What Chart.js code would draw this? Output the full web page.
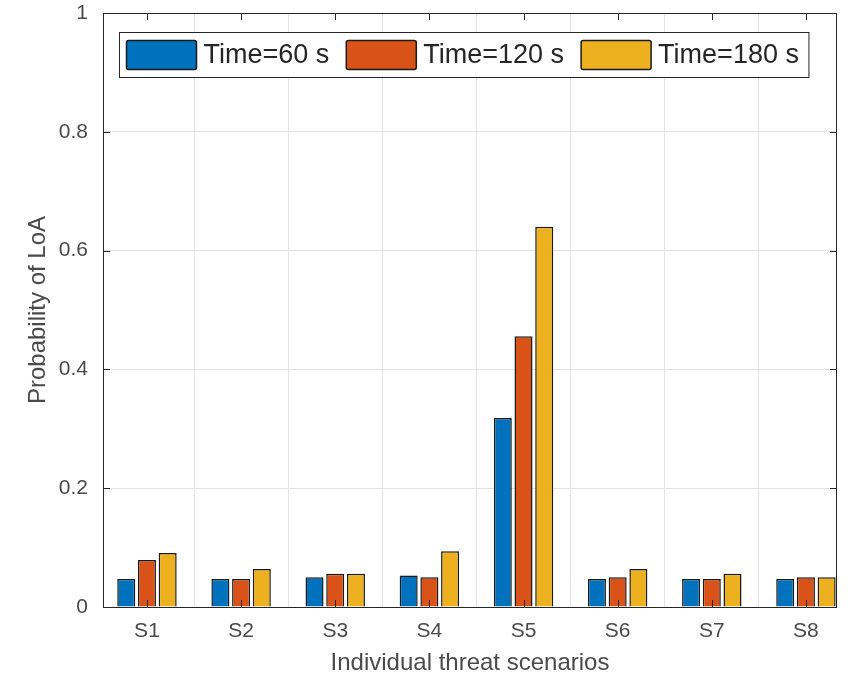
<!DOCTYPE html>
<html>
<head>
<meta charset="utf-8">
<script src="https://cdn.jsdelivr.net/npm/chart.js@4/dist/chart.umd.min.js"></script>
<style>
  html, body { margin: 0; padding: 0; background: #ffffff; }
  #wrap { width: 851px; height: 678px; }
</style>
</head>
<body>
<div id="wrap"><canvas id="c" width="851" height="678"></canvas></div>
<script>
// ---- data ----
const categories = ['S1', 'S2', 'S3', 'S4', 'S5', 'S6', 'S7', 'S8'];
const seriesLabels = ['Time=60 s', 'Time=120 s', 'Time=180 s'];
const time60  = [0.047, 0.047, 0.050, 0.053, 0.318, 0.047, 0.047, 0.047];
const time120 = [0.079, 0.047, 0.056, 0.050, 0.456, 0.050, 0.047, 0.050];
const time180 = [0.091, 0.064, 0.056, 0.094, 0.640, 0.064, 0.056, 0.050];
const yTicks = [0, 0.2, 0.4, 0.6, 0.8, 1];
const xTitle = 'Individual threat scenarios';
const yTitle = 'Probability of LoA';

const colors = ['#0072BD', '#D95319', '#EDB120'];
const FONT = '"Liberation Sans", Arial, sans-serif';
const AXIS_COLOR = '#262626';
const TEXT_COLOR = '#4a4a4a';

function toPoints(arr) { return arr.map((v, i) => ({ x: i + 1, y: v })); }

const allSeries = [time60, time120, time180];
const datasets = allSeries.map((s, i) => ({
  label: seriesLabels[i],
  data: toPoints(s),
  backgroundColor: colors[i],
  borderColor: '#1a1a1a',
  borderWidth: 1.5,
  categoryPercentage: 0.66,
  barPercentage: 0.87
}));

// axes box + inward ticks (MATLAB style)
const boxPlugin = {
  id: 'boxPlugin',
  afterDatasetsDraw(chart) {
    const { ctx, chartArea: a, scales } = chart;
    ctx.save();
    ctx.strokeStyle = AXIS_COLOR;
    ctx.lineWidth = 1;
    ctx.strokeRect(a.left + 0.5, a.top + 0.5, a.right - a.left - 1, a.bottom - a.top);
    const tl = 7;
    ctx.beginPath();
    categories.forEach((c, i) => {
      const x = Math.round(scales.x.getPixelForValue(i + 1)) + 0.5;
      ctx.moveTo(x, a.bottom); ctx.lineTo(x, a.bottom - tl);
      ctx.moveTo(x, a.top); ctx.lineTo(x, a.top + tl);
    });
    yTicks.forEach(v => {
      const y = Math.round(scales.y.getPixelForValue(v)) + 0.5;
      ctx.moveTo(a.left, y); ctx.lineTo(a.left + tl, y);
      ctx.moveTo(a.right, y); ctx.lineTo(a.right - tl, y);
    });
    ctx.stroke();
    ctx.restore();
  }
};

// legend drawn inside the axes (MATLAB 'north' legend)
const insideLegend = {
  id: 'insideLegend',
  afterDraw(chart) {
    const { ctx, chartArea: a } = chart;
    const fontSize = 27;
    ctx.save();
    ctx.font = fontSize + 'px ' + FONT;
    const swW = 70, swH = 29, gapText = 7, gapItem = 17, padL = 7, padR = 10;
    const items = chart.data.datasets.map(d => ({ label: d.label, color: d.backgroundColor, w: ctx.measureText(d.label).width }));
    let total = padL + padR;
    items.forEach((it, i) => { total += swW + gapText + it.w + (i < items.length - 1 ? gapItem : 0); });
    const boxH = 45;
    const left = 119.5;
    const top = a.top + 19.5;
    ctx.fillStyle = '#ffffff';
    ctx.fillRect(left, top, total, boxH);
    ctx.strokeStyle = AXIS_COLOR;
    ctx.lineWidth = 1;
    ctx.strokeRect(left, top, total, boxH);
    let x = left + padL;
    const cy = top + boxH / 2;
    items.forEach(it => {
      ctx.fillStyle = it.color;
      ctx.strokeStyle = '#1a1a1a';
      ctx.lineWidth = 1.5;
      ctx.beginPath();
      if (ctx.roundRect) ctx.roundRect(x, cy - swH / 2, swW, swH, 2); else ctx.rect(x, cy - swH / 2, swW, swH);
      ctx.fill(); ctx.stroke();
      x += swW + gapText;
      ctx.fillStyle = AXIS_COLOR;
      ctx.textBaseline = 'middle';
      ctx.textAlign = 'left';
      ctx.fillText(it.label, x, cy + 1);
      x += it.w + gapItem;
    });
    ctx.restore();
  }
};

function zeroPad(s) { s.paddingTop = 0; s.paddingBottom = 0; s.paddingLeft = 0; s.paddingRight = 0; }

new Chart(document.getElementById('c'), {
  type: 'bar',
  data: { datasets },
  options: {
    responsive: false,
    animation: false,
    layout: { padding: { top: 13, right: 14, left: 0, bottom: 0 } },
    plugins: { legend: { display: false }, tooltip: { enabled: false } },
    scales: {
      x: {
        type: 'linear',
        min: 0.533, max: 8.33,
        offset: false,
        afterFit(s) { s.height = 71; zeroPad(s); },
        afterBuildTicks(s) { s.ticks = categories.map((c, i) => ({ value: i + 1 })); },
        ticks: {
          autoSkip: false,
          maxRotation: 0,
          padding: 12,
          color: TEXT_COLOR,
          font: { family: FONT, size: 21 },
          callback: (v) => categories[Math.round(v) - 1] || ''
        },
        grid: { color: '#e3e3e3', lineWidth: 1, drawTicks: false },
        border: { display: false },
        title: {
          display: true, text: xTitle, color: TEXT_COLOR,
          font: { family: FONT, size: 24 }, padding: { top: 0, bottom: 0 }
        }
      },
      y: {
        min: 0, max: 1,
        afterFit(s) { s.width = 103; zeroPad(s); },
        afterBuildTicks(s) { s.ticks = yTicks.map(v => ({ value: v })); },
        ticks: {
          padding: 15,
          color: TEXT_COLOR,
          font: { family: FONT, size: 21 },
          callback: (v) => String(Math.round(v * 10) / 10)
        },
        grid: { color: '#e3e3e3', lineWidth: 1, drawTicks: false },
        border: { display: false },
        title: {
          display: true, text: yTitle, color: TEXT_COLOR,
          font: { family: FONT, size: 24 }, padding: { top: 24, bottom: 0 }
        }
      }
    }
  },
  plugins: [boxPlugin, insideLegend]
});
</script>
</body>
</html>
